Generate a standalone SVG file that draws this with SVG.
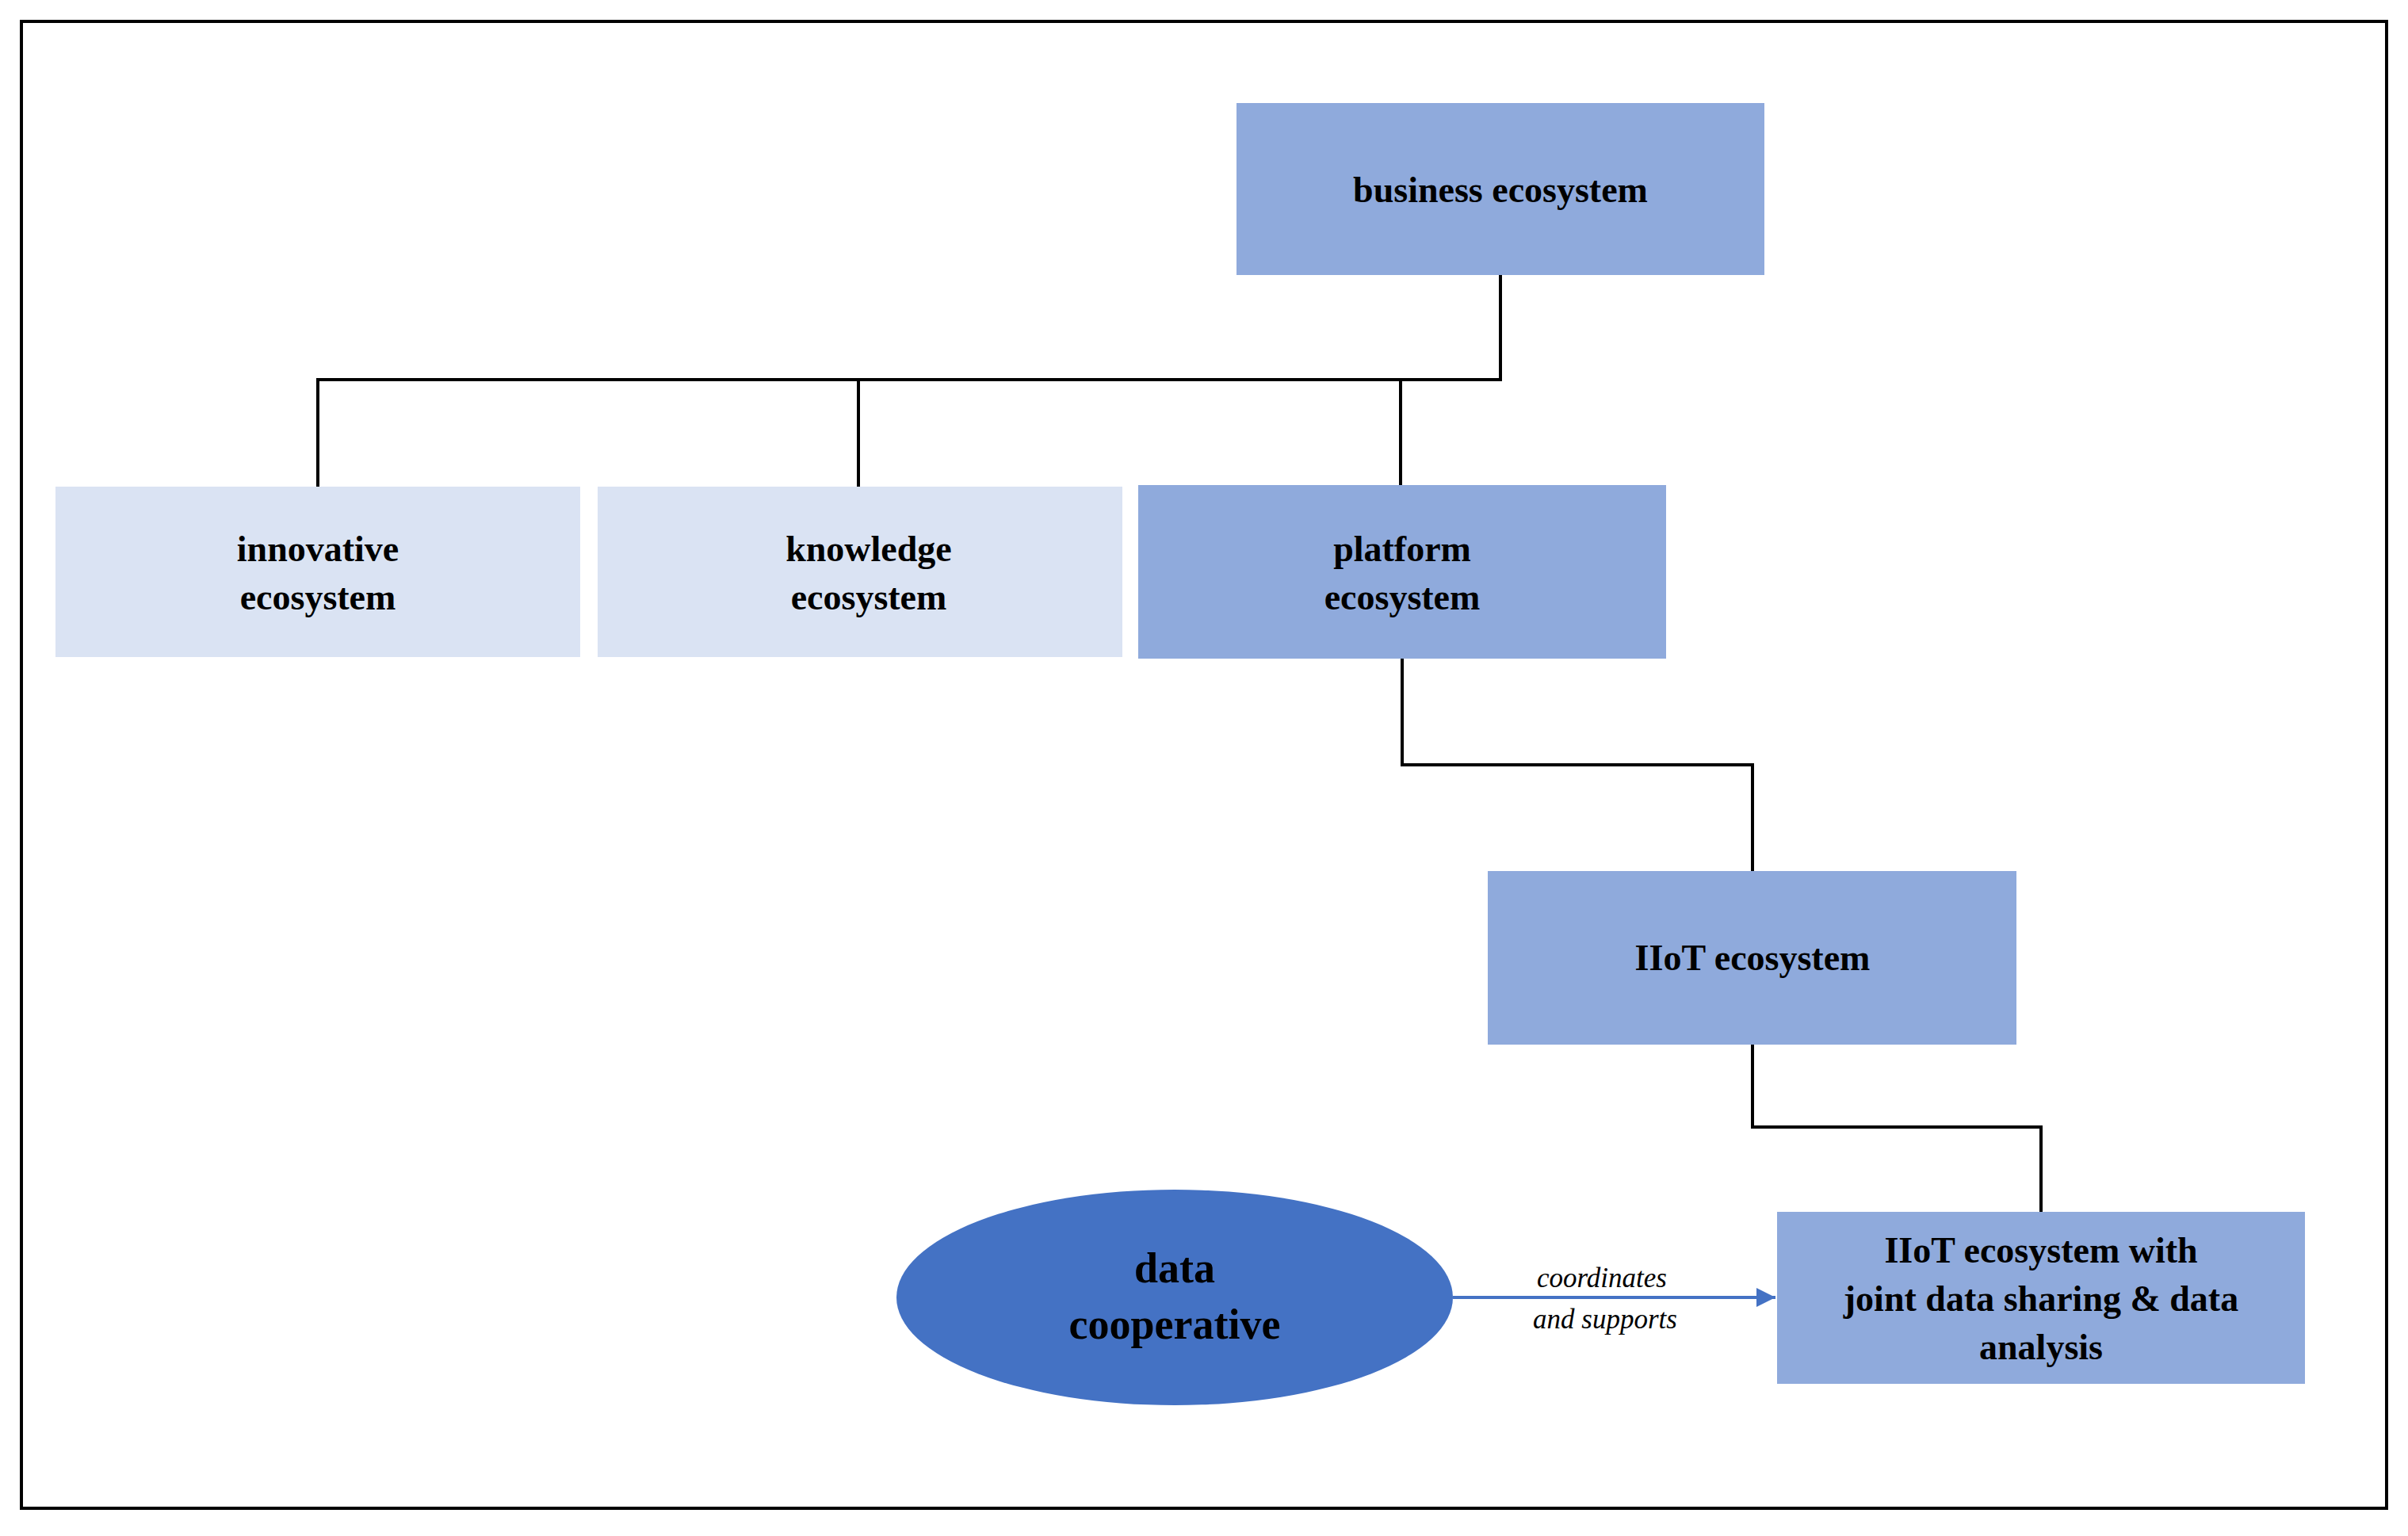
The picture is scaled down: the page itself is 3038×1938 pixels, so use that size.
<svg xmlns="http://www.w3.org/2000/svg" width="3038" height="1938" viewBox="0 0 3038 1938">
<defs>
<style>
.t{font-family:"Liberation Serif","DejaVu Serif",serif;font-weight:bold;font-size:46px;fill:#000;text-anchor:middle}
.l{font-family:"Liberation Serif","DejaVu Serif",serif;font-style:italic;font-size:35px;fill:#000;text-anchor:middle}
.c{fill:none;stroke:#000;stroke-width:4}
.mid{fill:#8FAADC}
.light{fill:#DAE3F3}
</style>
<marker id="ah" viewBox="0 0 10 10" refX="10" refY="5" markerWidth="6" markerHeight="6" orient="auto"><path d="M0,0L10,5L0,10z" fill="#4472C4"/></marker>
</defs>
<rect x="27" y="27" width="2984" height="1876" fill="#fff" stroke="#000" stroke-width="4"/>
<g id="connectors">
<path class="c" d="M1893,347V479H401V614M1083,479V614M1767,479V612"/>
<path class="c" d="M1769,831V965H2211V1099"/>
<path class="c" d="M2211,1318V1422H2575V1529"/>
<path d="M1833,1637H2240" stroke="#4472C4" stroke-width="4" marker-end="url(#ah)"/>
<text class="l" x="2021" y="1624">coordinates</text>
<text class="l" x="2025" y="1676">and supports</text>
</g>
<g id="business"><rect class="mid" x="1560" y="130" width="666" height="217"/><text class="t" x="1893" y="255">business ecosystem</text></g>
<g id="innovative"><rect class="light" x="70" y="614" width="662" height="215"/><text class="t" x="401" y="708">innovative</text><text class="t" x="401" y="769">ecosystem</text></g>
<g id="knowledge"><rect class="light" x="754" y="614" width="662" height="215"/><text class="t" x="1096" y="708">knowledge</text><text class="t" x="1096" y="769">ecosystem</text></g>
<g id="platform"><rect class="mid" x="1436" y="612" width="666" height="219"/><text class="t" x="1769" y="708">platform</text><text class="t" x="1769" y="769">ecosystem</text></g>
<g id="iiot"><rect class="mid" x="1877" y="1099" width="667" height="219"/><text class="t" x="2211" y="1224">IIoT ecosystem</text></g>
<g id="iiot-joint"><rect class="mid" x="2242" y="1529" width="666" height="217"/><text class="t" x="2575" y="1593">IIoT ecosystem with</text><text class="t" x="2575" y="1654">joint data sharing &amp; data</text><text class="t" x="2575" y="1715">analysis</text></g>
<g id="datacoop"><ellipse cx="1482" cy="1637" rx="351" ry="136" fill="#4472C4"/><text class="t" x="1482" y="1618" style="font-size:54px">data</text><text class="t" x="1482" y="1689" style="font-size:54px">cooperative</text></g>
</svg>
